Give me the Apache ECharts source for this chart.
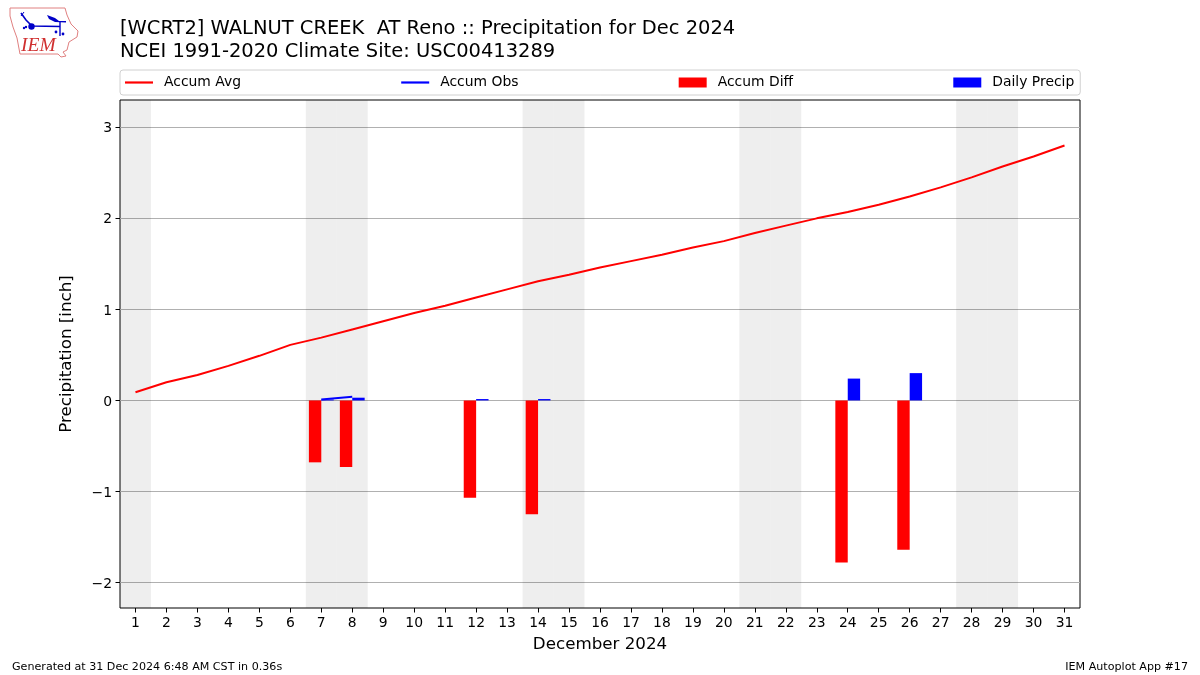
<!DOCTYPE html>
<html><head><meta charset="utf-8">
<style>html,body{margin:0;padding:0;background:#fff}#c{width:1200px;height:675px}</style>
<script src="https://cdn.jsdelivr.net/npm/echarts@6/dist/echarts.min.js"></script>
</head><body><div id="c"></div>
<script>
const days = ["1","2","3","4","5","6","7","8","9","10","11","12","13","14","15","16","17","18","19","20","21","22","23","24","25","26","27","28","29","30","31"];
const accumAvg = [0.09,0.20,0.28,0.38,0.49,0.61,0.69,0.78,0.87,0.96,1.04,1.13,1.22,1.31,1.38,1.46,1.53,1.60,1.68,1.75,1.84,1.92,2.00,2.07,2.15,2.24,2.34,2.45,2.57,2.68,2.80];
const accumObs = [null,null,null,null,null,null,0.01,0.04,null,null,null,null,null,null,null,null,null,null,null,null,null,null,null,null,null,null,null,null,null,null,null];
const accumDiff = [null,null,null,null,null,null,-0.68,-0.73,null,null,null,-1.07,null,-1.25,null,null,null,null,null,null,null,null,null,-1.78,null,-1.64,null,null,null,null,null];
const dailyPrecip = [null,null,null,null,null,null,0.01,0.03,null,null,null,0.015,null,0.015,null,null,null,null,null,null,null,null,null,0.24,null,0.30,null,null,null,null,null];
const weekend = [1,0,0,0,0,0,1,1,0,0,0,0,0,1,1,0,0,0,0,0,1,1,0,0,0,0,0,1,1,0,0];
const yTicks = [-2,-1,0,1,2,3];
const font = "'DejaVu Sans'";
const lineIcon = 'path://M0,0L0,0M0,3.9H28V6.1H0ZM28,10L28,10';
const chart = echarts.init(document.getElementById('c'), null, {renderer:'canvas'});
chart.setOption({
  animation:false,
  backgroundColor:'#fff',
  textStyle:{fontFamily:font},
  title:[
    {text:"[WCRT2] WALNUT CREEK  AT Reno :: Precipitation for Dec 2024\nNCEI 1991-2020 Climate Site: USC00413289",left:120,top:18,padding:0,
     textStyle:{fontFamily:font,fontSize:19.48,fontWeight:'normal',color:'#000',lineHeight:22.5}},
    {text:"Generated at 31 Dec 2024 6:48 AM CST in 0.36s",left:12,top:661.5,padding:0,textStyle:{fontFamily:font,fontSize:11.12,fontWeight:'normal',color:'#000'}},
    {text:"IEM Autoplot App #17",right:12,top:661.5,padding:0,textStyle:{fontFamily:font,fontSize:11.12,fontWeight:'normal',color:'#000'}}
  ],
  legend:{
    left:120,top:70,padding:[5.5,6,5.5,5],itemGap:160.2,itemWidth:28,itemHeight:10,
    borderColor:'#d0d0d0',borderWidth:1,borderRadius:3,
    textStyle:{fontFamily:font,fontSize:13.9,color:'#000',padding:[0,0,0,6],lineHeight:14},
    data:[{name:'Accum Avg',icon:lineIcon},{name:'Accum Obs',icon:lineIcon},{name:'Accum Diff',icon:'rect'},{name:'Daily Precip',icon:'rect'}]
  },
  grid:{left:120,right:120,top:100,height:508,show:true,borderColor:'#000',borderWidth:1,backgroundColor:'transparent'},
  xAxis:[
    {type:'category',data:days,boundaryGap:true,name:'December 2024',nameLocation:'middle',nameGap:28,
     nameTextStyle:{fontFamily:font,fontSize:16.7,color:'#000'},
     axisLine:{show:false,onZero:false},
     axisTick:{show:true,alignWithLabel:true,length:4.5,lineStyle:{color:'#000'}},
     axisLabel:{interval:0,margin:8,fontFamily:font,fontSize:13.9,color:'#000'},splitLine:{show:false}},
    {type:'category',data:days,show:false,boundaryGap:true}
  ],
  yAxis:[
    {type:'value',min:-2.28,max:3.3,name:'Precipitation [inch]',nameLocation:'middle',nameGap:45,nameMoveOverlap:false,
     nameTextStyle:{fontFamily:font,fontSize:16.7,color:'#000'},
     axisLine:{show:false,onZero:false},
     axisTick:{show:true,length:4.5,lineStyle:{color:'#000'},customValues:yTicks},
     axisLabel:{margin:8,fontFamily:font,fontSize:13.9,color:'#000',customValues:yTicks,
       formatter:v=>'{a|'+String(v).replace('-','\u2212')+'}',
       rich:{a:{fontFamily:font,fontSize:13.9,color:'#000',padding:[3,0,0,0]}}},
     splitLine:{show:true,lineStyle:{color:'#b0b0b0',width:1.1}}},
    {type:'value',min:0,max:1,show:false,splitLine:{show:false}}
  ],
  series:[
    {name:'Weekend',type:'bar',xAxisIndex:1,yAxisIndex:1,data:weekend,barWidth:'100%',silent:true,z:0,
     itemStyle:{color:'rgba(0,0,0,0.067)'}},
    {name:'Accum Avg',type:'line',data:accumAvg,showSymbol:false,symbol:'none',lineStyle:{color:'#f00',width:2},itemStyle:{color:'#f00'},z:4},
    {name:'Accum Obs',type:'line',data:accumObs,showSymbol:false,symbol:'none',lineStyle:{color:'#00f',width:2},itemStyle:{color:'#00f'},z:4},
    {name:'Accum Diff',type:'bar',data:accumDiff,barWidth:12.4,barGap:0,itemStyle:{color:'#f00'},z:3},
    {name:'Daily Precip',type:'bar',data:dailyPrecip,barWidth:12.4,barGap:0,itemStyle:{color:'#00f'},z:3}
  ],
  graphic:[
    {type:'polygon',shape:{points:[[10,8],[65,8],[67,15],[71,24],[78,31],[77,37],[69,42],[67,50],[63,52],[66,56],[61,57],[58,54],[20,54],[17,38],[13,27],[10,16]]},
     style:{fill:'#fff',stroke:'#e08080',lineWidth:1}},
    {type:'polyline',shape:{points:[[21,13],[26,20],[32,26],[60,26.5]]},style:{fill:null,stroke:'#0000c8',lineWidth:1.6}},
    {type:'polyline',shape:{points:[[60,21],[60,36]]},style:{fill:null,stroke:'#0000c8',lineWidth:1.4}},
    {type:'polyline',shape:{points:[[24,12],[21,16]]},style:{fill:null,stroke:'#0000c8',lineWidth:1}},
    {type:'circle',shape:{cx:31.5,cy:26.5,r:3.2},style:{fill:'#0000c8'}},
    {type:'polygon',shape:{points:[[47,15],[55,18],[59,21],[66,21],[66,22.5],[55,22],[49,19]]},style:{fill:'#0000c8'}},
    {type:'circle',shape:{cx:24,cy:28,r:1.2},style:{fill:'#0000c8'}},
    {type:'circle',shape:{cx:26,cy:27,r:1.2},style:{fill:'#0000c8'}},
    {type:'circle',shape:{cx:56,cy:32,r:1.4},style:{fill:'#0000c8'}},
    {type:'circle',shape:{cx:63,cy:34,r:1.4},style:{fill:'#0000c8'}},
    {type:'text',left:21,top:36,style:{text:'IEM',fill:'#d03030',font:"italic 19.5px 'Liberation Serif'"}}
  ]
});
</script></body></html>
